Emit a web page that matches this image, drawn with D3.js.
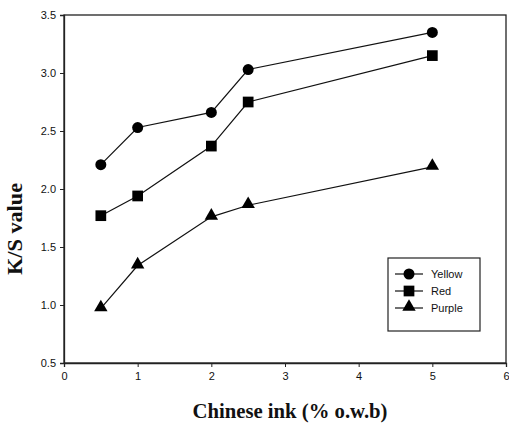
<!DOCTYPE html>
<html><head><meta charset="utf-8">
<script src="https://cdn.jsdelivr.net/npm/d3@7"></script>
<style>body{margin:0;background:#fff}svg{display:block}</style>
</head><body>
<script>
const xValues = [0.5, 1, 2, 2.5, 5];
const yellow = [2.21, 2.53, 2.66, 3.03, 3.35];
const red = [1.77, 1.94, 2.37, 2.75, 3.15];
const purple = [0.97, 1.34, 1.76, 1.86, 2.19];
const seriesNames = ["Yellow", "Red", "Purple"];
const xTicks = [0, 1, 2, 3, 4, 5, 6];
const yTicks = [0.5, 1.0, 1.5, 2.0, 2.5, 3.0, 3.5];

const W = 509, H = 425;
const L = 64, R = 506, T = 15, B = 363;
const svg = d3.select("body").append("svg").attr("width", W).attr("height", H);
const x = d3.scaleLinear().domain([0, 6]).range([L, R]);
const y = d3.scaleLinear().domain([0.5, 3.5]).range([B, T]);

// frame
svg.append("rect").attr("x", L).attr("y", T).attr("width", R - L).attr("height", B - T)
  .attr("fill", "none").attr("stroke", "#222").attr("stroke-width", 1.3);

const xAxis = svg.append("g").attr("transform", `translate(0,${B})`)
  .call(d3.axisBottom(x).tickValues(xTicks).tickFormat(d3.format("d")).tickSize(4).tickPadding(5));
const yAxis = svg.append("g").attr("transform", `translate(${L},0)`)
  .call(d3.axisLeft(y).tickValues(yTicks).tickFormat(d3.format(".1f")).tickSize(4).tickPadding(4));
[xAxis, yAxis].forEach(a => {
  a.select(".domain").attr("stroke", "#222").attr("stroke-width", 1.3);
  a.selectAll(".tick line").attr("stroke", "#222");
  a.selectAll("text").attr("font-family", "Liberation Sans, Arial, sans-serif")
    .attr("font-size", 11).attr("fill", "#111");
});

const data = [yellow, red, purple];
const shapes = [d3.symbolCircle, d3.symbolSquare, d3.symbolTriangle];
const sizes = [95, 115, 78];
const line = d3.line().x((d, i) => x(xValues[i])).y(d => y(d));
data.forEach((s, k) => {
  svg.append("path").datum(s).attr("d", line).attr("fill", "none")
    .attr("stroke", "#111").attr("stroke-width", 1.2);
  svg.selectAll(null).data(s).enter().append("path")
    .attr("transform", (d, i) => `translate(${x(xValues[i])},${y(d) + (k === 2 ? -1 : 0)})`)
    .attr("d", d3.symbol().type(shapes[k]).size(sizes[k])).attr("fill", "#000");
});

// legend
const lg = svg.append("g");
lg.append("rect").attr("x", 388).attr("y", 258).attr("width", 92).attr("height", 73)
  .attr("fill", "#fff").attr("stroke", "#222").attr("stroke-width", 1.2);
seriesNames.forEach((n, k) => {
  const yy = 274 + k * 17;
  lg.append("line").attr("x1", 395).attr("x2", 423).attr("y1", yy).attr("y2", yy)
    .attr("stroke", "#111").attr("stroke-width", 1.2);
  lg.append("path").attr("transform", `translate(409,${yy + (k === 2 ? -1 : 0)})`)
    .attr("d", d3.symbol().type(shapes[k]).size(sizes[k])).attr("fill", "#000");
  lg.append("text").attr("x", 431).attr("y", yy + 4).text(n)
    .attr("font-family", "Liberation Sans, Arial, sans-serif").attr("font-size", 11).attr("fill", "#111");
});

svg.append("text").attr("x", 290).attr("y", 418).attr("text-anchor", "middle")
  .attr("font-family", "Liberation Serif, Times New Roman, serif").attr("font-weight", "bold")
  .attr("font-size", 20).attr("textLength", 195).attr("lengthAdjust", "spacingAndGlyphs")
  .attr("fill", "#111").text("Chinese ink (% o.w.b)");
svg.append("text").attr("transform", "translate(22,229) rotate(-90)").attr("text-anchor", "middle")
  .attr("font-family", "Liberation Serif, Times New Roman, serif").attr("font-weight", "bold")
  .attr("font-size", 20).attr("textLength", 92).attr("lengthAdjust", "spacingAndGlyphs")
  .attr("fill", "#111").text("K/S value");
</script>
</body></html>
